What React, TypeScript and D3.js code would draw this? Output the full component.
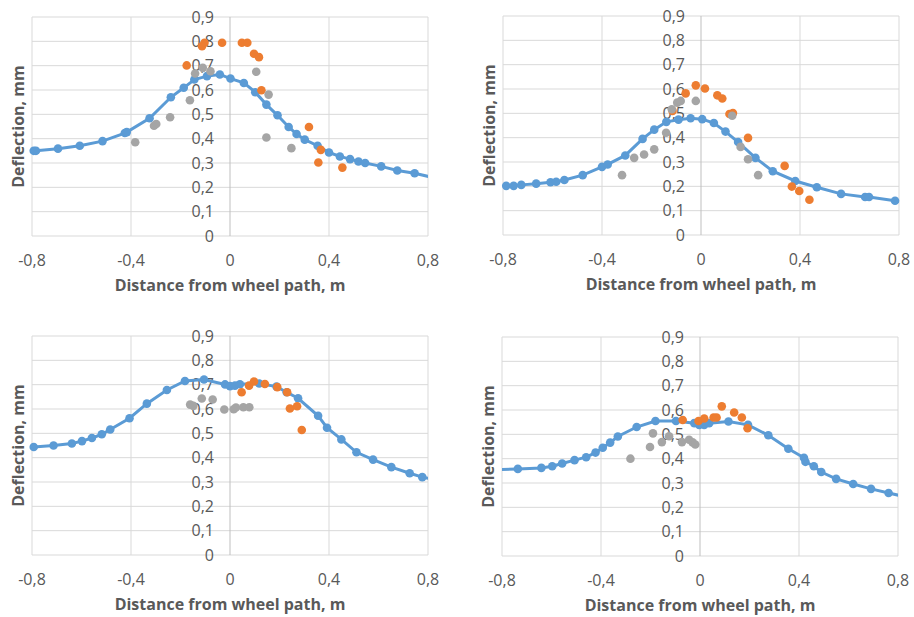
import * as d3 from "d3";
import React from "react";

// deflection profiles, [distance m, deflection mm]
const p1Line = [
  [-0.793, 0.35], [-0.784, 0.35], [-0.695, 0.359], [-0.607, 0.371], [-0.515, 0.39],
  [-0.425, 0.423], [-0.417, 0.427], [-0.325, 0.484], [-0.239, 0.57], [-0.187, 0.609],
  [-0.144, 0.643], [-0.093, 0.657], [-0.041, 0.664], [0.002, 0.647], [0.056, 0.629],
  [0.102, 0.591], [0.147, 0.54], [0.192, 0.496], [0.237, 0.448], [0.269, 0.419],
  [0.302, 0.396], [0.354, 0.371], [0.4, 0.343], [0.444, 0.327], [0.485, 0.316],
  [0.519, 0.306], [0.546, 0.3], [0.611, 0.286], [0.676, 0.269], [0.746, 0.258], [0.83, 0.238],
];
const p1Orange = [
  [-0.175, 0.701], [-0.113, 0.78], [-0.103, 0.794], [-0.032, 0.794], [0.048, 0.794],
  [0.07, 0.794], [0.097, 0.749], [0.117, 0.735], [0.127, 0.599], [0.319, 0.448],
  [0.367, 0.354], [0.357, 0.302], [0.454, 0.281],
];
const p1Gray = [
  [-0.141, 0.668], [-0.11, 0.691], [-0.079, 0.677], [-0.162, 0.558], [-0.242, 0.488],
  [-0.307, 0.453], [-0.298, 0.46], [-0.383, 0.385], [0.106, 0.675], [0.156, 0.581],
  [0.147, 0.405], [0.248, 0.361],
];

const p2Line = [
  [-0.787, 0.202], [-0.757, 0.202], [-0.726, 0.206], [-0.666, 0.211], [-0.608, 0.217],
  [-0.585, 0.219], [-0.552, 0.226], [-0.478, 0.246], [-0.4, 0.28], [-0.377, 0.29],
  [-0.306, 0.327], [-0.236, 0.395], [-0.189, 0.433], [-0.14, 0.465], [-0.091, 0.474],
  [-0.042, 0.48], [0.005, 0.476], [0.052, 0.46], [0.099, 0.425], [0.15, 0.382],
  [0.22, 0.317], [0.29, 0.262], [0.381, 0.222], [0.468, 0.196], [0.566, 0.169],
  [0.663, 0.156], [0.679, 0.156], [0.784, 0.141], [0.83, 0.134],
];
const p2Orange = [
  [-0.115, 0.51], [-0.062, 0.582], [-0.021, 0.615], [0.016, 0.602], [0.066, 0.574],
  [0.086, 0.561], [0.115, 0.497], [0.129, 0.501], [0.19, 0.399], [0.338, 0.284],
  [0.367, 0.199], [0.397, 0.181], [0.438, 0.145],
];
const p2Gray = [
  [-0.118, 0.517], [-0.096, 0.544], [-0.082, 0.551], [-0.021, 0.551], [0.126, 0.49],
  [0.16, 0.362], [0.19, 0.311], [0.231, 0.246], [-0.189, 0.352], [-0.23, 0.331],
  [-0.27, 0.317], [-0.319, 0.246], [-0.141, 0.42],
];

const p3Line = [
  [-0.793, 0.444], [-0.713, 0.45], [-0.639, 0.458], [-0.598, 0.468], [-0.558, 0.481],
  [-0.518, 0.496], [-0.484, 0.516], [-0.406, 0.562], [-0.336, 0.622], [-0.255, 0.678],
  [-0.182, 0.715], [-0.105, 0.721], [-0.02, 0.701], [0.0, 0.694], [0.02, 0.696],
  [0.04, 0.702], [0.118, 0.705], [0.188, 0.692], [0.229, 0.669], [0.275, 0.644],
  [0.356, 0.572], [0.392, 0.523], [0.45, 0.475], [0.511, 0.422], [0.578, 0.392],
  [0.652, 0.361], [0.726, 0.336], [0.777, 0.32], [0.83, 0.31],
];
const p3Orange = [
  [0.047, 0.669], [0.077, 0.696], [0.097, 0.713], [0.141, 0.703], [0.191, 0.69],
  [0.231, 0.669], [0.242, 0.602], [0.271, 0.611], [0.29, 0.514],
];
const p3Gray = [
  [-0.161, 0.618], [-0.148, 0.613], [-0.114, 0.643], [-0.07, 0.639], [-0.023, 0.598],
  [0.015, 0.599], [0.024, 0.606], [0.054, 0.607], [0.078, 0.607],
];

const p4Line = [
  [-0.83, 0.355], [-0.736, 0.358], [-0.641, 0.362], [-0.597, 0.369], [-0.557, 0.38],
  [-0.507, 0.394], [-0.46, 0.406], [-0.422, 0.425], [-0.393, 0.445], [-0.363, 0.466],
  [-0.332, 0.491], [-0.256, 0.53], [-0.18, 0.555], [-0.097, 0.555], [-0.023, 0.546],
  [-0.003, 0.539], [0.017, 0.539], [0.037, 0.546], [0.115, 0.553], [0.194, 0.539],
  [0.276, 0.496], [0.357, 0.441], [0.42, 0.404], [0.426, 0.387], [0.46, 0.369],
  [0.49, 0.345], [0.55, 0.317], [0.619, 0.296], [0.691, 0.276], [0.762, 0.259], [0.83, 0.243],
];
const p4Orange = [
  [-0.07, 0.559], [-0.006, 0.555], [0.017, 0.565], [0.055, 0.569], [0.067, 0.569],
  [0.088, 0.615], [0.138, 0.59], [0.169, 0.569], [0.192, 0.525],
];
const p4Gray = [
  [-0.281, 0.4], [-0.202, 0.448], [-0.19, 0.504], [-0.154, 0.468], [-0.125, 0.492],
  [-0.073, 0.468], [-0.044, 0.478], [-0.03, 0.467], [-0.019, 0.458],
];

const xTicks = [-0.8, -0.4, 0, 0.4, 0.8];
const yTicks = [0, 0.1, 0.2, 0.3, 0.4, 0.5, 0.6, 0.7, 0.8, 0.9];
const xTitle = "Distance from wheel path, m";
const yTitle = "Deflection, mm";

const panels = [
  {id: "a", left: 32, top: 17, line: p1Line, orange: p1Orange, gray: p1Gray},
  {id: "b", left: 503, top: 16, line: p2Line, orange: p2Orange, gray: p2Gray},
  {id: "c", left: 32, top: 336, line: p3Line, orange: p3Orange, gray: p3Gray},
  {id: "d", left: 502, top: 337, line: p4Line, orange: p4Orange, gray: p4Gray},
];

const W = 396, H = 219;
const BLUE = "#5b9bd5", ORANGE = "#ed7d31", GRAY = "#a5a5a5", TEXT = "#595959";
const FONT = "'Open Sans', 'Noto Sans', sans-serif";

const fmt = v => (v === 0 ? "0" : v.toFixed(1).replace(".", ","));

const Panel = ({p}) => {
  const x = d3.scaleLinear().domain([-0.8, 0.8]).range([0, W]);
  const y = d3.scaleLinear().domain([0, 0.9]).range([H, 0]);
  const line = d3.line().x(d => x(d[0])).y(d => y(d[1]));
  const inside = d => d[0] >= -0.8 && d[0] <= 0.8;

  return (
    <g transform={`translate(${p.left},${p.top})`}>
      <defs>
        <clipPath id={`clip-${p.id}`}>
          <rect x={0} y={0} width={W} height={H}/>
        </clipPath>
      </defs>
      {yTicks.map(t => (
        <line key={"h" + t} x1={0} x2={W} y1={y(t)} y2={y(t)} stroke="#d9d9d9" strokeWidth={1}/>
      ))}
      {xTicks.map(t => (
        <line key={"v" + t} x1={x(t)} x2={x(t)} y1={0} y2={H}
              stroke={t === 0 ? "#bfbfbf" : "#d9d9d9"} strokeWidth={1}/>
      ))}
      {yTicks.map(t => (
        <text key={"yl" + t} x={x(0) - 16} y={y(t)} dy="0.35em" textAnchor="end"
              fontSize={16} fill={TEXT} fontFamily={FONT}>{fmt(t)}</text>
      ))}
      {xTicks.map(t => (
        <text key={"xl" + t} x={x(t)} y={H + 24} dy="0.35em" textAnchor="middle"
              fontSize={16} fill={TEXT} fontFamily={FONT}>{fmt(t)}</text>
      ))}
      <text x={x(0)} y={H + 50} dy="0.32em" textAnchor="middle" fontSize={16}
            fontWeight="bold" fill={TEXT} fontFamily={FONT}>{xTitle}</text>
      <text transform={`translate(-14,${H / 2}) rotate(-90)`} dy="0.35em" textAnchor="middle"
            fontSize={16} fontWeight="bold" fill={TEXT} fontFamily={FONT}>{yTitle}</text>

      <path d={line(p.line)} fill="none" stroke={BLUE} strokeWidth={3}
            clipPath={`url(#clip-${p.id})`}/>
      {p.line.filter(inside).map((d, i) => (
        <circle key={"b" + i} cx={x(d[0])} cy={y(d[1])} r={4.3} fill={BLUE}/>
      ))}
      {p.orange.map((d, i) => (
        <circle key={"o" + i} cx={x(d[0])} cy={y(d[1])} r={4.3} fill={ORANGE}/>
      ))}
      {p.gray.map((d, i) => (
        <circle key={"g" + i} cx={x(d[0])} cy={y(d[1])} r={4.3} fill={GRAY}/>
      ))}
    </g>
  );
};

const App = () => (
  <svg width={914} height={617} style={{position: "absolute", left: 0, top: 0, background: "#fff"}}>
    {panels.map(p => <Panel key={p.id} p={p}/>)}
  </svg>
);

export default App;
